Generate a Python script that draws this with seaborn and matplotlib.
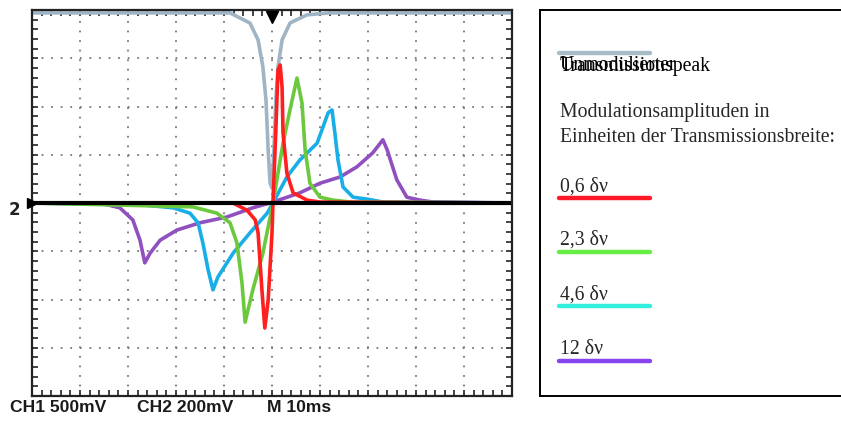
import numpy as np
import pandas as pd
import matplotlib
matplotlib.use("Agg")
import matplotlib.pyplot as plt
from matplotlib.patches import Rectangle
import seaborn as sns

# Oscilloscope traces: time in ms (10 ms/div), signal in screen divisions
peak_t = [-50, -15, -8.75, -4.6, -2.9, -1.9, -1.25, -0.8, -0.4, 0.0, 0.4, 0.8, 1.25, 2.1, 3.75, 7.3, 12, 50]
peak_y = [3.94, 3.94, 3.94, 3.73, 3.38, 2.82, 2.13, 1.10, 0.41, 0.31, 1.10, 2.13, 2.82, 3.38, 3.73, 3.90, 3.94, 3.94]

red_t = [-50, -8.1, -5.2, -3.5, -2.9, -2.1, -1.5, -0.8, 0.0, 0.2, 0.8, 1.25, 1.7, 2.1, 2.3, 3.1, 4.4, 7.3, 10, 50]
red_y = [0, 0, -0.15, -0.35, -0.62, -1.80, -2.59, -2.01, -0.62, 0, 1.51, 2.76, 2.86, 2.40, 1.45, 0.62, 0.21, 0.06, 0.02, 0]

green_t = [-50, -16.5, -11.5, -8.75, -7.3, -6.25, -5.6, -4.0, -1.9, 0.2, 2.3, 3.75, 5.2, 6.25, 6.9, 7.9, 10, 12.7, 16.25, 50]
green_y = [0, -0.08, -0.21, -0.41, -0.83, -1.66, -2.47, -1.80, -1.04, 0, 1.24, 1.93, 2.59, 2.07, 1.10, 0.41, 0.12, 0.06, 0.02, 0]

cyan_t = [-50, -26.9, -20.6, -17.1, -15.4, -14.4, -13.3, -12.3, -11.25, -8.1, -4.6, -1.0, 0.2, 3.1, 5.8, 9.4,
          11.7, 12.5, 13.1, 13.75, 14.8, 16.9, 19.8, 23.1, 50]
cyan_y = [0, -0.04, -0.10, -0.21, -0.41, -0.83, -1.39, -1.80, -1.53, -1.04, -0.62, -0.21, 0, 0.54, 0.89, 1.24,
          1.87, 1.93, 1.45, 0.89, 0.33, 0.12, 0.08, 0.02, 0]

purple_t = [-50, -35.8, -31.7, -29, -27.5, -26.5, -25.4, -23.3, -19.8, -15, -9.4, -4.0, 0.2, 5.8, 10, 14.2,
            17.7, 21, 23.1, 24, 26, 28.1, 30.8, 33.5, 50]
purple_y = [0, 0, -0.10, -0.35, -0.77, -1.24, -1.04, -0.77, -0.56, -0.41, -0.29, -0.10, 0.02, 0.21, 0.41, 0.54,
            0.75, 1.04, 1.31, 1.10, 0.48, 0.12, 0.06, 0.02, 0]

base_t = [-50, 50]
base_y = [0, 0]

legend_labels = ["0,6 δν", "2,3 δν", "4,6 δν", "12 δν"]
trace_colors = ["#ff1f1f", "#6cc83c", "#1aaee8", "#9050c0"]
legend_colors = ["#ff1a2a", "#66ee44", "#33eedd", "#8844ee"]
peak_color = "#9fb4c4"
peak_legend_color = "#a7bcc6"
scope_labels = ["CH1 500mV", "CH2 200mV", "M 10ms"]

sns.set_theme(style="white")
plt.rcParams["font.family"] = ["DejaVu Sans"]

W, H = 841, 421
fig = plt.figure(figsize=(W / 100, H / 100), dpi=100)
pos = [32 / W, 25 / H, 480 / W, 386 / H]

# centre cross with fine tick marks, drawn underneath the traces
axc = fig.add_axes(pos)
axc.set_xlim(-50, 50)
axc.set_ylim(-4, 4)
for s in ["top", "right"]:
    axc.spines[s].set_visible(False)
for s in ["left", "bottom"]:
    axc.spines[s].set_position(("data", 0))
    axc.spines[s].set_color("none")
axc.set_xticks(np.arange(-50, 51, 10))
axc.set_xticks(np.arange(-50, 51, 2), minor=True)
axc.set_yticks(np.arange(-4, 4.01, 1))
axc.set_yticks(np.arange(-4, 4.01, 0.2), minor=True)
axc.tick_params(which="both", direction="inout", length=6, width=1.3, color="#222222",
                labelbottom=False, labelleft=False)
axc.patch.set_facecolor("white")

ax = fig.add_axes(pos)
ax.patch.set_alpha(0)
ax.set_xlim(-50, 50)
ax.set_ylim(-4, 4)
ax.set_xticks(np.arange(-50, 51, 10))
ax.set_xticks(np.arange(-50, 51, 2), minor=True)
ax.set_yticks(np.arange(-4, 4.01, 1))
ax.set_yticks(np.arange(-4, 4.01, 0.2), minor=True)
ax.tick_params(which="both", direction="in", length=4, width=1.2, color="#222222",
               top=True, right=True, bottom=True, left=True,
               labelbottom=False, labelleft=False)
ax.grid(True, which="major", color="#777777", linestyle=(0, (1, 4.3)), linewidth=1.3)
for s in ax.spines.values():
    s.set_color("#222222")
    s.set_linewidth(1.6)

traces = [
    (peak_t, peak_y, peak_color),
    (purple_t, purple_y, trace_colors[3]),
    (cyan_t, cyan_y, trace_colors[2]),
    (green_t, green_y, trace_colors[1]),
    (red_t, red_y, trace_colors[0]),
]
for t, y, c in traces:
    df = pd.DataFrame({"t": t, "y": y})
    sns.lineplot(data=df, x="t", y="y", ax=ax, color=c, linewidth=2.6, sort=False,
                 estimator=None, solid_joinstyle="round")
sns.lineplot(x=base_t, y=base_y, ax=ax, color="black", linewidth=3.0, estimator=None)
ax.set_xlabel("")
ax.set_ylabel("")

# channel-2 ground marker and trigger marker
ax.plot([-50], [0], marker=">", color="black", markersize=7, clip_on=False, zorder=5)
fig.text(14 / W, (H - 210) / H, "2", fontsize=12, fontweight="bold", ha="center", va="center",
         color="#222222")
ax.plot([0], [3.85], marker="v", color="black", markersize=9, clip_on=False, zorder=5)

# scope readout
scope_x = [10, 137, 267]
for x, s in zip(scope_x, scope_labels):
    fig.text(x / W, (H - 408) / H, s, fontsize=12.6, fontweight="bold",
             family=["Liberation Sans", "DejaVu Sans"], ha="left", va="center",
             color="#1a1a1a")

# legend panel
fig.add_artist(Rectangle((540 / W, (H - 396) / H), 320 / W, 386 / H, transform=fig.transFigure,
                         facecolor="white", edgecolor="black", linewidth=1.4))
serif = ["Liberation Serif", "DejaVu Serif"]
fs = 14.2
x0 = 560 / W
lx = [559 / W, 650 / W]

def fy(py):
    return (H - py) / H

fig.add_artist(plt.Line2D(lx, [fy(53)] * 2, color=peak_legend_color, linewidth=3.2,
                          transform=fig.transFigure))
fig.text(x0, fy(66), "Unmodulierter", family=serif, fontsize=fs, va="center", color="black")
fig.text(x0, fy(66), "Transmissionspeak", family=serif, fontsize=fs, va="center", color="black")
fig.text(x0, fy(113), "Modulationsamplituden in", family=serif, fontsize=fs, va="center")
fig.text(x0, fy(137), "Einheiten der Transmissionsbreite:", family=serif, fontsize=fs, va="center")

label_y = [187, 240, 295, 349]
line_y = [198, 252, 306, 361]
for lab, c, ty, ly in zip(legend_labels, legend_colors, label_y, line_y):
    fig.text(x0, fy(ty), lab, family=serif, fontsize=fs, va="center")
    fig.add_artist(plt.Line2D(lx, [fy(ly)] * 2, color=c, linewidth=3.2,
                              transform=fig.transFigure))

fig.savefig("out.png", dpi=100)
